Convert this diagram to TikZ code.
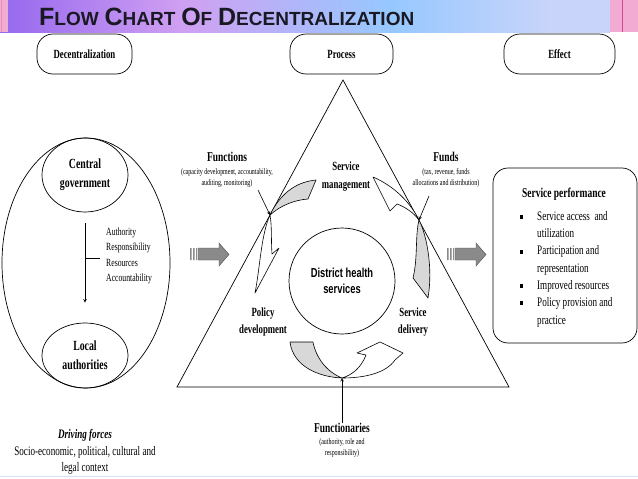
\documentclass[tikz,border=0pt]{standalone}
\usepackage{fontspec}
\setmainfont[FakeStretch=0.7]{Liberation Serif}
\newfontfamily\titlefont{Liberation Sans}
\newfontfamily\narrowsans[FakeStretch=0.72]{Liberation Sans}
\usepackage{tikz}
\usetikzlibrary{shapes.geometric, arrows, positioning, calc}
\usepackage{xcolor}
\definecolor{barpurple}{RGB}{150,104,238}
\definecolor{barlilac}{RGB}{208,160,242}
\definecolor{barblue}{RGB}{150,200,255}
\definecolor{barpale}{RGB}{200,212,250}
\definecolor{barpink}{RGB}{242,172,212}
\definecolor{barrose}{RGB}{214,70,140}
\definecolor{titleink}{RGB}{25,25,35}
\definecolor{slideline}{RGB}{215,222,250}
\definecolor{ribbongray}{RGB}{216,216,216}
\definecolor{fatgray}{RGB}{138,138,138}
\pgfdeclarehorizontalshading{titlebar}{100bp}{color(0bp)=(barpurple); color(25bp)=(barpurple); color(40bp)=(barlilac); color(57bp)=(barblue); color(70bp)=(barpale); color(100bp)=(barpale)}
\newcommand{\smallcapword}[2]{{\fontsize{25}{25}\selectfont #1}{\fontsize{19}{19}\selectfont #2}}
\tikzstyle{heading} = [draw=black, line width=0.7pt, rounded corners=16pt, minimum height=40pt, font=\bfseries\fontsize{12.5}{14}\selectfont]
\tikzstyle{disc} = [draw=black, line width=0.7pt, ellipse, align=center, inner sep=0pt, font=\bfseries\fontsize{14}{19}\selectfont]
\tikzstyle{keyword} = [align=center, inner sep=0pt, font=\bfseries\fontsize{13.5}{15}\selectfont]
\tikzstyle{remark} = [align=center, inner sep=0pt, font=\fontsize{8.5}{11}\selectfont]
\tikzstyle{corner} = [align=center, inner sep=0pt, font=\bfseries\fontsize{12.5}{17.5}\selectfont]
\tikzstyle{listtext} = [align=left, inner sep=0pt, font=\fontsize{11}{15.3}\selectfont]
\tikzstyle{ribbon} = [draw=black, line width=0.6pt, line join=round]
\tikzstyle{pointer} = [line width=0.6pt,->,>=stealth]
\tikzstyle{blockarrow} = [draw=black!70, line width=0.4pt, fill=fatgray]

\begin{document}
\begin{tikzpicture}[x=1pt, y=-1pt]
        \useasboundingbox (0,0) rectangle (638,479);
        \fill[white] (0,0) rectangle (638,479);

        % Title bar
        \shade[shading=titlebar] (0,0) rectangle (610,32);
        \fill[barpink] (610,0) rectangle (638,32);
        \draw[barrose, line width=1pt] (622,0) -- (622,32);
        \fill[barpink] (0,0) rectangle (8,32);
        \draw[barrose!60, line width=0.8pt] (1.5,0) -- (1.5,32);
        \draw[barrose!40, line width=0.8pt] (6,0) -- (6,32);
        \node (title) [anchor=base west, inner sep=0pt, text=titleink, font=\titlefont\bfseries\fontsize{21}{21}\selectfont] at (39,25) {\smallcapword{F}{LOW} \smallcapword{C}{HART} \smallcapword{O}{F} \smallcapword{D}{ECENTRALIZATION}};
        \draw[slideline, line width=1pt] (0,476) -- (638,476);

        % Headings
        \node (decentral) [heading, minimum width=95pt] at (84.5,54) {Decentralization};
        \node (process) [heading, minimum width=103pt] at (341.5,54) {Process};
        \node (effect) [heading, minimum width=111pt] at (559.5,54) {Effect};

        % Decentralization
        \node (field) [draw=black, line width=0.7pt, ellipse, minimum width=168pt, minimum height=250pt] at (86,263) {};
        \node (central) [disc, minimum width=86pt, minimum height=74pt] at (85,175) {Central\\government};
        \node (local) [disc, minimum width=86pt, minimum height=65pt] at (85,355.5) {Local\\authorities};
        \draw[pointer, shorten <=11pt, shorten >=20pt] (central) -- (local);
        \coordinate (tick) at (85,258);
        \draw[line width=0.6pt] (tick) -- ++(15,0);
        \node (powers) [listtext, anchor=west] at (106,256) {Authority\\Responsibility\\Resources\\Accountability};
        \node (driving) [inner sep=0pt, font=\bfseries\itshape\fontsize{13}{15}\selectfont] at (85,435) {Driving forces};
        \node (context) [below=5pt of driving, align=center, inner sep=0pt, font=\fontsize{13}{16}\selectfont] {Socio-economic, political, cultural and\\legal context};

        % Block arrows
        \draw[blockarrow] (198,248) -- (219,248) -- (219,243) -- (229,254.5) -- (219,266) -- (219,260) -- (198,260) -- cycle;
        \fill[fatgray] (190,248) rectangle (191.6,260) (193,248) rectangle (194.6,260) (196,248) rectangle (197.2,260);
        \draw[blockarrow] (455,248) -- (476,248) -- (476,243) -- (486,254.5) -- (476,266) -- (476,260) -- (455,260) -- cycle;
        \fill[fatgray] (447,248) rectangle (448.6,260) (450,248) rectangle (451.6,260) (453,248) rectangle (454.2,260);

        % Process
        \coordinate (apex) at (343,80);
        \coordinate (baseL) at (177,387);
        \coordinate (baseR) at (509,387);
        \draw[line width=0.7pt] (apex) -- (baseL) -- (baseR) -- cycle;
        \node (district) [draw=black, line width=0.7pt, circle, minimum size=106pt, align=center, inner sep=0pt, font=\narrowsans\bfseries\fontsize{13}{16}\selectfont] at (342,281) {District health\\services};
        \node (management) [corner] at (346,176.5) {Service\\management};
        \node (policy) [corner] at (263,322) {Policy\\development};
        \node (delivery) [corner] at (413,322) {Service\\delivery};

        % Cycle ribbons
        \coordinate (pinchA) at (270,215);
        \coordinate (pinchB) at (342,378);
        \coordinate (pinchC) at (419,220);
        \draw[ribbon, fill=ribbongray] (pinchA) .. controls (279,196) and (294,182) .. (316,180) -- (308,199) .. controls (295,200) and (281,205) .. (pinchA) -- cycle;
        \draw[ribbon, fill=white] (pinchA) .. controls (261,235) and (260,268) .. (255,293) -- (279,248) -- (272,254) .. controls (271,240) and (272,226) .. (pinchA) -- cycle;
        \draw[ribbon, fill=ribbongray] (290,342) -- (313,342) .. controls (316,358) and (327,372) .. (pinchB) .. controls (318,377) and (293,366) .. (290,342) -- cycle;
        \draw[ribbon, fill=white] (pinchB) .. controls (365,378) and (386,373) .. (395,360) -- (403,353) -- (380,342) -- (357,353) -- (366,355) .. controls (361,368) and (352,375) .. (pinchB) -- cycle;
        \draw[ribbon, fill=ribbongray] (pinchC) .. controls (427,236) and (433,268) .. (428,298) -- (413,278) .. controls (418,258) and (415,236) .. (pinchC) -- cycle;
        \draw[ribbon, fill=white] (pinchC) .. controls (410,202) and (394,186) .. (373,177) -- (390,211) -- (397,204) .. controls (405,207) and (413,212) .. (pinchC) -- cycle;

        % Inputs
        \node (functions) [keyword] at (227,157) {Functions};
        \node (funcnote) [remark, below=6pt of functions] {(capacity development, accountability,\\auditing, monitoring)};
        \node (funds) [keyword] at (446,157) {Funds};
        \node (fundnote) [remark, below=6pt of funds] {(tax, revenue, funds\\allocations and distribution)};
        \node (functionaries) [keyword] at (342,428) {Functionaries};
        \node (rolenote) [remark, below=5pt of functionaries] {(authority, role and\\responsibility)};
        \coordinate (funcfrom) at (258,190);
        \coordinate (fundfrom) at (429,196);
        \draw[pointer] (funcfrom) -- (pinchA);
        \draw[pointer] (fundfrom) -- (pinchC);
        \draw[pointer] (functionaries) -- (pinchB);

        % Effect
        \node (performance) [draw=black, line width=0.7pt, rounded corners=15pt, minimum width=144pt, minimum height=175pt] at (565,255.5) {};
        \node (perftitle) [anchor=west, inner sep=0pt, font=\bfseries\fontsize{13.5}{15}\selectfont] at (522,194) {Service performance};
        \node (perflist) [anchor=north west, align=left, inner sep=0pt, font=\fontsize{13}{17.3}\selectfont] at (537,211) {Service access~ and\\utilization\\Participation and\\representation\\Improved resources\\Policy provision and\\practice};
        \foreach \y in {217,252,286,303} \fill (519.5,\y-2) rectangle ++(3,4);
    \end{tikzpicture}
\end{document}
